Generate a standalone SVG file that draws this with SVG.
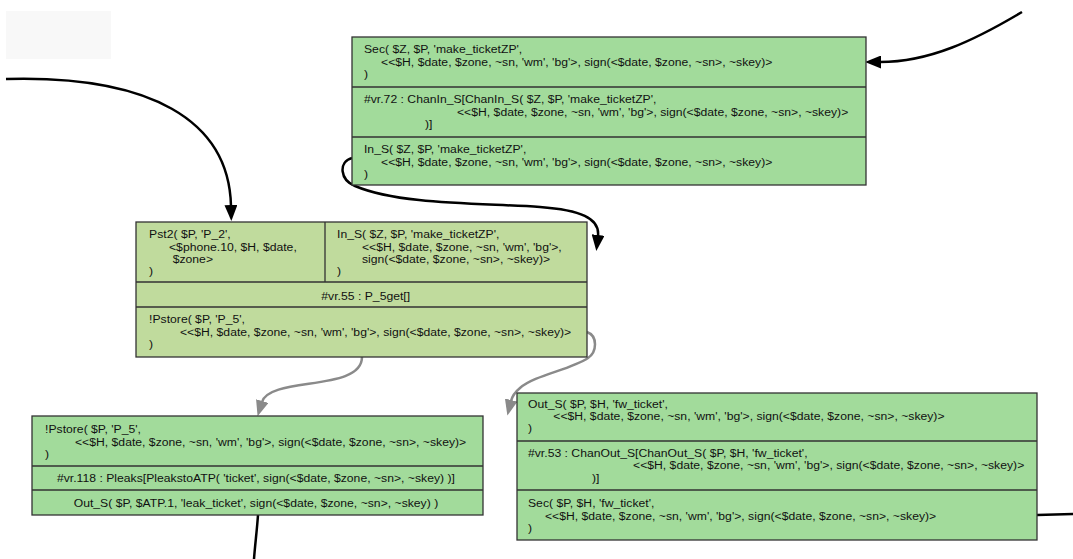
<svg xmlns="http://www.w3.org/2000/svg" width="1073" height="559" viewBox="0 0 1073 559">
<style>
.bx{stroke:#333;stroke-width:1.3}
.g1{fill:#a2db9b}
.g2{fill:#c0db9d}
.dv{stroke:#333;stroke-width:1.3;fill:none}
.t text{font-family:"Liberation Sans",Arial,Helvetica,sans-serif;font-size:11px;fill:#111}
.e{fill:none;stroke:#000;stroke-width:2.5}
.eg{fill:none;stroke:#8a8a8a;stroke-width:2.5}
</style>
<defs>
<marker id="ab" markerUnits="userSpaceOnUse" viewBox="0 0 16 13" markerWidth="16" markerHeight="13" refX="1" refY="6.5" orient="auto"><path d="M0,0 L16,6.5 L0,13 z" fill="#000"/></marker>
<marker id="ag" markerUnits="userSpaceOnUse" viewBox="0 0 16 13" markerWidth="16" markerHeight="13" refX="1" refY="6.5" orient="auto"><path d="M0,0 L16,6.5 L0,13 z" fill="#8a8a8a"/></marker>
</defs>
<rect x="0" y="0" width="1073" height="559" fill="#fff"/>
<rect x="6" y="11" width="105" height="48" fill="#f8f8f8"/>

<g id="connectors">
<path class="e" d="M6,79 C150,75 229,120 231,206" marker-end="url(#ab)"/>
<path class="e" d="M1022,12 C975,40 930,62 880,62" marker-end="url(#ab)"/>
<path class="e" d="M352,158 C338,162 340,180 355,186 C400,205 480,203 540,207 C580,210 600,218 598,236" marker-end="url(#ab)"/>
<path class="eg" d="M362,357 C362,392 270,376 262,402" marker-end="url(#ag)"/>
<path class="eg" d="M587,332 C598,336 597,352 588,358 C570,370 535,375 520,388 C514,393 512,397 511,401" marker-end="url(#ag)"/>
<path class="e" d="M258,515 C257,530 255,545 254,559"/>
<path class="e" d="M1037,515 L1073,514"/>
</g>

<g id="node-top">
<rect class="bx g1" x="352" y="37" width="514" height="148"/>
<path class="dv" d="M352,87 H866 M352,137 H866"/>
<g class="t" transform="scale(1.109 1)">
<text x="328.2" y="53.5">Sec( $Z, $P, 'make_ticketZP',</text>
<text x="343.6" y="65.8">&lt;&lt;$H, $date, $zone, ~sn, 'wm', 'bg'&gt;, sign(&lt;$date, $zone, ~sn&gt;, ~skey)&gt;</text>
<text x="328.2" y="78.1">)</text>
<text x="328.2" y="103.5">#vr.72 : ChanIn_S[ChanIn_S( $Z, $P, 'make_ticketZP',</text>
<text x="412.1" y="115.8">&lt;&lt;$H, $date, $zone, ~sn, 'wm', 'bg'&gt;, sign(&lt;$date, $zone, ~sn&gt;, ~skey)&gt;</text>
<text x="383.2" y="128.1">)]</text>
<text x="328.2" y="153.5">In_S( $Z, $P, 'make_ticketZP',</text>
<text x="343.6" y="165.8">&lt;&lt;$H, $date, $zone, ~sn, 'wm', 'bg'&gt;, sign(&lt;$date, $zone, ~sn&gt;, ~skey)&gt;</text>
<text x="328.2" y="178.1">)</text>
</g>
</g>

<g id="node-middle">
<rect class="bx g2" x="136" y="222" width="451" height="135"/>
<path class="dv" d="M136,282 H587 M136,307 H587 M325,222 V282"/>
<g class="t" transform="scale(1.109 1)">
<text x="134.4" y="238.5">Pst2( $P, 'P_2',</text>
<text x="152.4" y="250.8">&lt;$phone.10, $H, $date,</text>
<text x="155.7" y="263.1">$zone&gt;</text>
<text x="134.4" y="275.4">)</text>
<text x="303.9" y="238.5">In_S( $Z, $P, 'make_ticketZP',</text>
<text x="326.4" y="250.8">&lt;&lt;$H, $date, $zone, ~sn, 'wm', 'bg'&gt;,</text>
<text x="326.4" y="263.1">sign(&lt;$date, $zone, ~sn&gt;, ~skey)&gt;</text>
<text x="303.9" y="275.4">)</text>
<text x="329.8" y="300" text-anchor="middle">#vr.55 : P_5get[]</text>
<text x="134.4" y="323.5">!Pstore( $P, 'P_5',</text>
<text x="162.3" y="335.8">&lt;&lt;$H, $date, $zone, ~sn, 'wm', 'bg'&gt;, sign(&lt;$date, $zone, ~sn&gt;, ~skey)&gt;</text>
<text x="134.4" y="348.1">)</text>
</g>
</g>

<g id="node-bottom-left">
<rect class="bx g1" x="32" y="416" width="451" height="99"/>
<path class="dv" d="M32,466 H483 M32,490 H483"/>
<g class="t" transform="scale(1.109 1)">
<text x="40.6" y="433.5">!Pstore( $P, 'P_5',</text>
<text x="67.6" y="445.8">&lt;&lt;$H, $date, $zone, ~sn, 'wm', 'bg'&gt;, sign(&lt;$date, $zone, ~sn&gt;, ~skey)&gt;</text>
<text x="40.6" y="458.1">)</text>
<text x="230.8" y="481.8" text-anchor="middle">#vr.118 : Pleaks[PleakstoATP( 'ticket', sign(&lt;$date, $zone, ~sn&gt;, ~skey) )]</text>
<text x="230.8" y="507" text-anchor="middle">Out_S( $P, $ATP.1, 'leak_ticket', sign(&lt;$date, $zone, ~sn&gt;, ~skey) )</text>
</g>
</g>

<g id="node-bottom-right">
<rect class="bx g1" x="517" y="393" width="520" height="147"/>
<path class="dv" d="M517,441 H1037 M517,490 H1037"/>
<g class="t" transform="scale(1.109 1)">
<text x="476.1" y="407.8">Out_S( $P, $H, 'fw_ticket',</text>
<text x="498.9" y="420">&lt;&lt;$H, $date, $zone, ~sn, 'wm', 'bg'&gt;, sign(&lt;$date, $zone, ~sn&gt;, ~skey)&gt;</text>
<text x="476.1" y="432.2">)</text>
<text x="476.1" y="457">#vr.53 : ChanOut_S[ChanOut_S( $P, $H, 'fw_ticket',</text>
<text x="570.8" y="469.3">&lt;&lt;$H, $date, $zone, ~sn, 'wm', 'bg'&gt;, sign(&lt;$date, $zone, ~sn&gt;, ~skey)&gt;</text>
<text x="533.8" y="481.6">)]</text>
<text x="476.1" y="507.5">Sec( $P, $H, 'fw_ticket',</text>
<text x="491.4" y="519.8">&lt;&lt;$H, $date, $zone, ~sn, 'wm', 'bg'&gt;, sign(&lt;$date, $zone, ~sn&gt;, ~skey)&gt;</text>
<text x="476.1" y="532.1">)</text>
</g>
</g>
</svg>
